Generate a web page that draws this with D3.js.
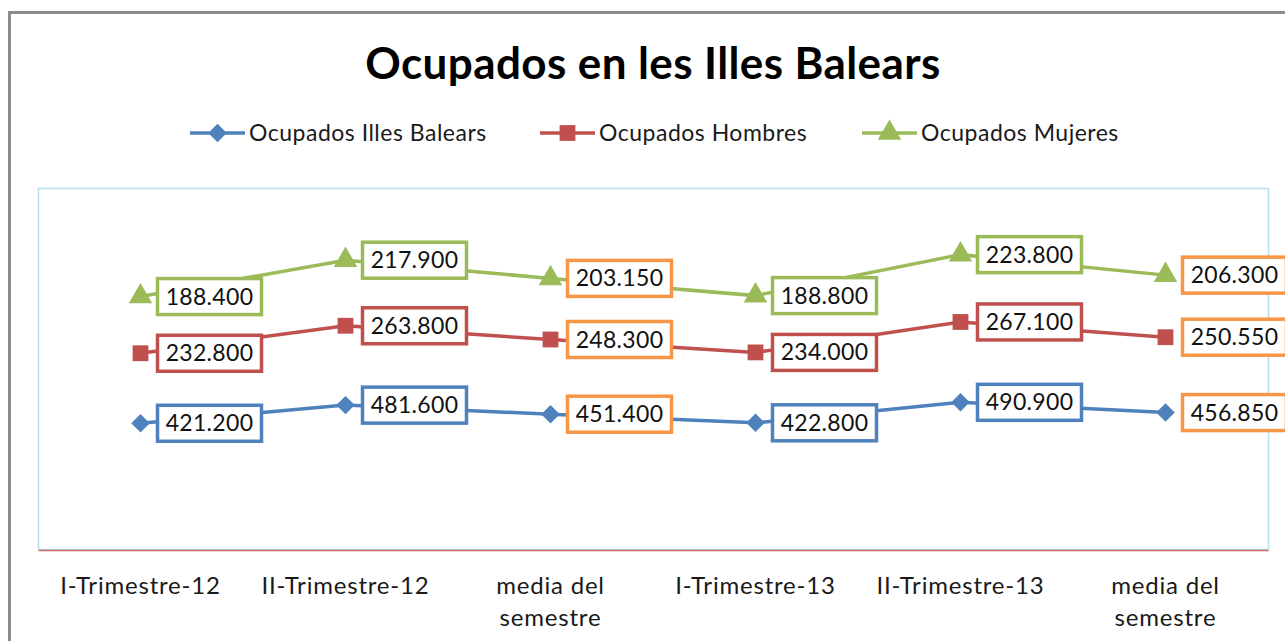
<!DOCTYPE html>
<html>
<head>
<meta charset="utf-8">
<script src="https://cdn.jsdelivr.net/npm/d3@7"></script>
<style>
  body { margin: 0; background: #fff; }
  text { font-family: Lato, "Open Sans", sans-serif; }
</style>
</head>
<body>
<div id="chart"></div>
<script>
// data (people, stacked line chart)
var categories = ["I-Trimestre-12", "II-Trimestre-12", "media del semestre",
  "I-Trimestre-13", "II-Trimestre-13", "media del semestre"];
var seriesNames = ["Ocupados Illes Balears", "Ocupados Hombres", "Ocupados Mujeres"];
var totalValues = [421200, 481600, 451400, 422800, 490900, 456850];
var menValues = [232800, 263800, 248300, 234000, 267100, 250550];
var womenValues = [188400, 217900, 203150, 188800, 223800, 206300];
var averageCols = [2, 5]; // "media" columns get orange label boxes

var svgWidth = 1285;
var svgHeight = 641;
var margin = { top: 189, right: 17, bottom: 91, left: 38 };
var width = svgWidth - margin.left - margin.right;
var height = svgHeight - margin.top - margin.bottom;

var colors = ["#4F81BD", "#C0504D", "#9BBB59"];
var orange = "#F79646";

var rows = categories.map(function(c, i) {
  return { idx: i, s0: totalValues[i], s1: menValues[i], s2: womenValues[i] };
});
var stacked = d3.stack().keys(["s0", "s1", "s2"])(rows);

var locale = d3.formatLocale({ decimal: ",", thousands: ".", grouping: [3], currency: ["", "€"] });
var fmt = locale.format(",.0f");

var svg = d3.select("#chart").append("svg")
  .attr("width", svgWidth)
  .attr("height", svgHeight);

// outer chart border
svg.append("rect")
  .attr("x", 9.5).attr("y", 12.5)
  .attr("width", 1400).attr("height", 800)
  .attr("fill", "none")
  .attr("stroke", "#8c8c8c")
  .attr("stroke-width", 3);

// title
svg.append("text")
  .attr("x", 653).attr("y", 79)
  .attr("text-anchor", "middle")
  .style("font-size", "44px")
  .style("letter-spacing", "0.4px")
  .style("font-weight", "bold")
  .attr("fill", "#000")
  .text("Ocupados en les Illes Balears");

var x = d3.scaleBand().domain(d3.range(categories.length)).range([0, width]);
var y = d3.scaleLinear().domain([0, 1200000]).range([height, 0]);

var chartGroup = svg.append("g")
  .attr("transform", `translate(${margin.left}, ${margin.top})`);

// plot area border
chartGroup.append("rect")
  .attr("x", 0.5).attr("y", -0.5)
  .attr("width", width).attr("height", height)
  .attr("fill", "none")
  .attr("stroke", "#b7e0ee")
  .attr("stroke-width", 1.5);

// x axis
var xAxis = chartGroup.append("g")
  .attr("transform", `translate(0, ${height})`)
  .call(d3.axisBottom(x).tickSize(0).tickFormat(""));
xAxis.select(".domain").attr("stroke", "#d06a68").attr("stroke-width", 1.5);

var xLabels = chartGroup.append("g");
categories.forEach(function(c, i) {
  var t = xLabels.append("text")
    .attr("x", x(i) + x.bandwidth() / 2)
    .attr("y", height + 44)
    .attr("text-anchor", "middle")
    .style("font-size", "24px")
    .style("letter-spacing", "0.8px")
    .attr("fill", "#1a1a1a");
  var parts = c === "media del semestre" ? ["media del", "semestre"] : [c];
  parts.forEach(function(p, k) {
    t.append("tspan")
      .attr("x", x(i) + x.bandwidth() / 2)
      .attr("dy", k === 0 ? 0 : 32)
      .text(p);
  });
});

function cx(i) { return x(i) + x.bandwidth() / 2; }

var line = d3.line()
  .x(function(d) { return cx(d.data.idx); })
  .y(function(d) { return y(d[1]); });

// marker shapes (diamond drawn as a square turned 45deg)
var diamond = { draw: function(ctx, size) {
  var r = Math.sqrt(size / 2);
  ctx.moveTo(0, -r); ctx.lineTo(r, 0); ctx.lineTo(0, r); ctx.lineTo(-r, 0); ctx.closePath();
} };
var symbolTypes = [diamond, d3.symbolSquare, d3.symbolTriangle];
var symbolSizes = [170, 250, 240];

stacked.forEach(function(layer, si) {
  chartGroup.append("path")
    .datum(layer)
    .attr("d", line)
    .attr("fill", "none")
    .attr("stroke", colors[si])
    .attr("stroke-width", 3.5);

  chartGroup.selectAll(".pt" + si)
    .data(layer)
    .enter()
    .append("path")
    .attr("class", "pt" + si)
    .attr("transform", function(d) { return `translate(${cx(d.data.idx)}, ${y(d[1])})`; })
    .attr("d", d3.symbol().type(symbolTypes[si]).size(symbolSizes[si]))
    .attr("fill", colors[si]);
});

// label boxes
var boxW = 104, boxH = 36;
stacked.forEach(function(layer, si) {
  var g = chartGroup.selectAll(".lbl" + si)
    .data(layer)
    .enter()
    .append("g")
    .attr("class", "lbl" + si)
    .attr("transform", function(d) { return `translate(${cx(d.data.idx) + 17}, ${y(d[1])})`; });

  g.append("rect")
    .attr("x", 0).attr("y", -boxH / 2)
    .attr("width", boxW).attr("height", boxH)
    .attr("fill", "#fff")
    .attr("stroke", function(d) { return averageCols.indexOf(d.data.idx) >= 0 ? orange : colors[si]; })
    .attr("stroke-width", 3.5);

  g.append("text")
    .attr("x", boxW / 2).attr("y", 8)
    .attr("text-anchor", "middle")
    .style("font-size", "23px")
    .style("letter-spacing", "0.3px")
    .attr("fill", "#111")
    .text(function(d) { return fmt(d[1] - d[0]); });
});

// legend
var legendItems = [
  { x: 190, text: seriesNames[0] },
  { x: 540, text: seriesNames[1] },
  { x: 862, text: seriesNames[2] }
];
var legend = svg.append("g");
legendItems.forEach(function(item, i) {
  var lg = legend.append("g").attr("transform", `translate(${item.x}, 133)`);
  lg.append("line")
    .attr("x1", 0).attr("x2", 55)
    .attr("y1", 0).attr("y2", 0)
    .attr("stroke", colors[i])
    .attr("stroke-width", 3.5);
  lg.append("path")
    .attr("transform", "translate(27.5, 0)")
    .attr("d", d3.symbol().type(symbolTypes[i]).size(symbolSizes[i]))
    .attr("fill", colors[i]);
  lg.append("text")
    .attr("x", 59).attr("y", 8)
    .style("font-size", "23px")
    .style("letter-spacing", "0.5px")
    .attr("fill", "#1a1a1a")
    .text(item.text);
});
</script>
</body>
</html>
